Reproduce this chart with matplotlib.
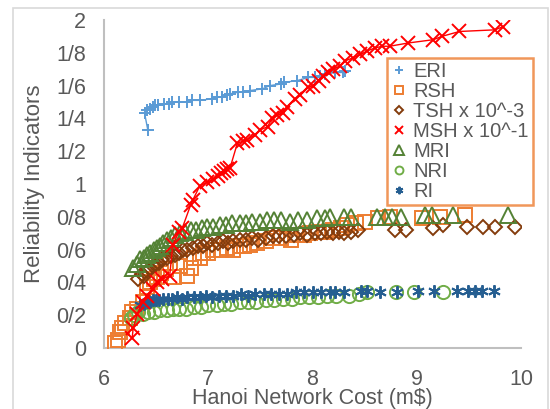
import matplotlib
matplotlib.use("Agg")
import matplotlib.pyplot as plt
from matplotlib.patches import Rectangle

plt.rcParams['font.family'] = ['Liberation Sans', 'DejaVu Sans']

# ---------------- data ----------------
eri_x = [6.42, 6.39, 6.41, 6.44, 6.47, 6.49, 6.52, 6.58, 6.62, 6.65, 6.72, 6.80, 6.84, 6.92, 7.04, 7.08, 7.13,
         7.18, 7.21, 7.29, 7.33, 7.40, 7.52, 7.59, 7.70, 7.73, 7.85, 7.96, 8.02, 8.07, 8.12, 8.22, 8.29, 8.31]
eri_y = [1.33, 1.43, 1.45, 1.46, 1.47, 1.48, 1.48, 1.49, 1.49, 1.50, 1.50, 1.50, 1.51, 1.51, 1.52, 1.53, 1.53,
         1.54, 1.55, 1.56, 1.56, 1.57, 1.58, 1.60, 1.61, 1.62, 1.63, 1.65, 1.65, 1.66, 1.67, 1.68, 1.68, 1.69]

rsh_x = [6.11, 6.13, 6.15, 6.17, 6.20, 6.25, 6.27, 6.32, 6.37, 6.41, 6.41, 6.44, 6.48, 6.51, 6.55, 6.59, 6.63,
         6.67, 6.73, 6.80, 6.83, 6.86, 6.92, 6.95, 7.00, 7.05, 7.12, 7.18, 7.24, 7.30, 7.34, 7.40, 7.47, 7.55,
         7.62, 7.70, 7.79, 7.85, 7.92, 7.98, 8.05, 8.12, 8.20, 8.27, 8.33, 8.42, 8.50, 8.63, 8.74, 9.05, 9.22, 9.46]
rsh_y = [0.03, 0.05, 0.10, 0.12, 0.15, 0.18, 0.22, 0.24, 0.28, 0.31, 0.37, 0.40, 0.42, 0.43, 0.46, 0.48, 0.52,
         0.43, 0.50, 0.44, 0.49, 0.55, 0.55, 0.58, 0.58, 0.60, 0.60, 0.61, 0.60, 0.62, 0.62, 0.63, 0.64, 0.65,
         0.67, 0.67, 0.66, 0.69, 0.69, 0.70, 0.71, 0.71, 0.72, 0.73, 0.75, 0.76, 0.77, 0.79, 0.80, 0.79, 0.80, 0.81]

tsh_x = [6.33, 6.36, 6.38, 6.41, 6.44, 6.47, 6.50, 6.53, 6.56, 6.60, 6.64, 6.68, 6.72, 6.76, 6.80, 6.85, 6.90,
         6.95, 6.99, 7.04, 7.09, 7.14, 7.19, 7.24, 7.30, 7.36, 7.42, 7.48, 7.55, 7.62, 7.68, 7.75, 7.82, 7.88,
         7.95, 8.02, 8.08, 8.14, 8.20, 8.25, 8.30, 8.37, 8.44, 8.79, 8.90, 9.16, 9.25, 9.48, 9.64, 9.75, 9.94]
tsh_y = [0.42, 0.45, 0.44, 0.47, 0.48, 0.50, 0.51, 0.52, 0.54, 0.55, 0.56, 0.57, 0.58, 0.60, 0.60, 0.61, 0.62,
         0.62, 0.64, 0.63, 0.64, 0.65, 0.64, 0.65, 0.66, 0.66, 0.67, 0.66, 0.67, 0.68, 0.68, 0.68, 0.69, 0.70,
         0.69, 0.70, 0.70, 0.71, 0.70, 0.71, 0.70, 0.71, 0.72, 0.72, 0.72, 0.73, 0.75, 0.74, 0.74, 0.74, 0.74]

msh_x = [6.27, 6.28, 6.32, 6.37, 6.41, 6.47, 6.51, 6.56, 6.63, 6.66, 6.72, 6.75, 6.83, 6.85, 6.92, 6.99, 7.05,
         7.09, 7.12, 7.15, 7.18, 7.21, 7.28, 7.33, 7.37, 7.45, 7.50, 7.57, 7.61, 7.66, 7.72, 7.76, 7.83, 7.88,
         7.96, 8.00, 8.06, 8.10, 8.15, 8.20, 8.26, 8.31, 8.39, 8.46, 8.52, 8.60, 8.67, 8.74, 8.92, 9.16, 9.24,
         9.41, 9.75, 9.83]
msh_y = [0.06, 0.12, 0.21, 0.28, 0.32, 0.36, 0.40, 0.42, 0.44, 0.63, 0.71, 0.73, 0.87, 0.90, 0.99, 1.01, 1.03,
         1.05, 1.07, 1.08, 1.09, 1.10, 1.25, 1.26, 1.27, 1.30, 1.33, 1.35, 1.40, 1.42, 1.43, 1.47, 1.52, 1.54,
         1.59, 1.60, 1.63, 1.66, 1.68, 1.70, 1.72, 1.75, 1.77, 1.79, 1.81, 1.83, 1.84, 1.84, 1.86, 1.88, 1.90,
         1.93, 1.94, 1.96]

mri_x = [6.28, 6.32, 6.35, 6.38, 6.41, 6.44, 6.48, 6.51, 6.54, 6.57, 6.60, 6.64, 6.68, 6.73, 6.78, 6.83, 6.88,
         6.94, 6.99, 7.05, 7.11, 7.17, 7.23, 7.30, 7.36, 7.42, 7.50, 7.56, 7.63, 7.70, 7.78, 7.86, 7.95, 8.04,
         8.12, 8.17, 8.30, 8.37, 8.62, 8.70, 8.76, 8.85, 9.08, 9.15, 9.35, 9.88]
mri_y = [0.49, 0.51, 0.54, 0.55, 0.57, 0.58, 0.60, 0.61, 0.62, 0.64, 0.66, 0.67, 0.69, 0.70, 0.71, 0.72, 0.72,
         0.73, 0.74, 0.74, 0.75, 0.75, 0.76, 0.76, 0.76, 0.77, 0.77, 0.78, 0.78, 0.78, 0.77, 0.78, 0.78, 0.79,
         0.79, 0.80, 0.80, 0.80, 0.80, 0.80, 0.80, 0.80, 0.81, 0.81, 0.81, 0.81]

nri_x = [6.26, 6.29, 6.33, 6.37, 6.42, 6.48, 6.54, 6.60, 6.66, 6.72, 6.79, 6.86, 6.93, 7.00, 7.08, 7.15, 7.22,
         7.30, 7.38, 7.46, 7.55, 7.63, 7.72, 7.80, 7.88, 7.97, 8.05, 8.14, 8.23, 8.35, 8.45, 8.52, 8.80, 8.97, 9.25]
nri_y = [0.18, 0.20, 0.22, 0.21, 0.22, 0.22, 0.23, 0.23, 0.24, 0.24, 0.24, 0.25, 0.25, 0.26, 0.26, 0.27, 0.27,
         0.28, 0.28, 0.28, 0.29, 0.29, 0.30, 0.30, 0.31, 0.31, 0.31, 0.32, 0.32, 0.32, 0.33, 0.34, 0.34, 0.34, 0.34]

ri_x = [6.35, 6.38, 6.41, 6.44, 6.47, 6.50, 6.53, 6.57, 6.61, 6.65, 6.70, 6.75, 6.80, 6.86, 6.92, 6.98, 7.04,
        7.10, 7.17, 7.24, 7.31, 7.38, 7.45, 7.53, 7.60, 7.68, 7.76, 7.84, 7.92, 8.00, 8.08, 8.17, 8.22, 8.30,
        8.47, 8.52, 8.65, 8.81, 9.01, 9.17, 9.39, 9.49, 9.56, 9.63, 9.74]
ri_y = [0.26, 0.27, 0.28, 0.28, 0.29, 0.29, 0.29, 0.30, 0.30, 0.30, 0.31, 0.30, 0.31, 0.31, 0.31, 0.32, 0.31,
        0.32, 0.32, 0.32, 0.33, 0.32, 0.33, 0.33, 0.33, 0.33, 0.33, 0.34, 0.34, 0.34, 0.34, 0.34, 0.34, 0.34,
        0.35, 0.35, 0.34, 0.34, 0.35, 0.35, 0.35, 0.35, 0.35, 0.35, 0.35]

labels = ["ERI", "RSH", "TSH x 10^-3", "MSH x 10^-1", "MRI", "NRI", "RI"]
x_ticks = [6, 7, 8, 9, 10]
y_ticks = [0, 0.2, 0.4, 0.6, 0.8, 1.0, 1.2, 1.4, 1.6, 1.8, 2.0]
y_ticklabels = ["0", "0/2", "0/4", "0/6", "0/8", "1", "1/2", "1/4", "1/6", "1/8", "2"]

# ---------------- figure ----------------
fig = plt.figure(figsize=(5.5, 4.09), dpi=100)
fig.patches.append(Rectangle((13 / 550, -0.05), (548 - 13) / 550, 1.05 - 8 / 409,
                             transform=fig.transFigure, fill=False, edgecolor='#D9D9D9', linewidth=1.2))
ax = fig.add_axes([104 / 550, 1 - 348 / 409, (521 - 104) / 550, (348 - 20) / 409])

mew = 1.4
ax.plot(eri_x, eri_y, color='#5B9BD5', marker='+', ms=9, mew=mew, lw=1.0, label=labels[0], zorder=3)
ax.plot(rsh_x, rsh_y, color='#ED7D31', marker='s', ms=10, mew=mew, lw=0, fillstyle='none', label=labels[1], zorder=3)
ax.plot(tsh_x, tsh_y, color='#843C0C', marker='D', ms=7.5, mew=mew, lw=0, fillstyle='none', label=labels[2], zorder=4)
ax.plot(msh_x, msh_y, color='#FF0000', marker='x', ms=9.5, mew=mew, lw=1.0, label=labels[3], zorder=7)
ax.plot(mri_x, mri_y, color='#548235', marker='^', ms=11, mew=mew, lw=0, fillstyle='none', label=labels[4], zorder=5)
ax.plot(nri_x, nri_y, color='#70AD47', marker='o', ms=9.5, mew=mew, lw=0, fillstyle='none', label=labels[5], zorder=5)
ax.plot(ri_x, ri_y, color='#255E91', marker=(6, 2, 0), ms=9, mew=mew, lw=0, label=labels[6], zorder=6)

ax.set_xlim(6, 10)
ax.set_ylim(0, 2)
ax.set_xticks(x_ticks)
ax.set_xticklabels([str(t) for t in x_ticks])
ax.set_yticks(y_ticks)
ax.set_yticklabels(y_ticklabels)
ax.tick_params(axis='both', length=0, labelsize=15.5, colors='#595959')
ax.tick_params(axis='y', pad=13)
ax.tick_params(axis='x', pad=15)
for s in ['top', 'right']:
    ax.spines[s].set_visible(False)
for s in ['left', 'bottom']:
    ax.spines[s].set_color('#BFBFBF')
    ax.spines[s].set_linewidth(1.5)

ax.set_xlabel("Hanoi Network Cost (m$)", fontsize=15.5, color='#595959', labelpad=-1)
ax.set_ylabel("Reliability Indicators", fontsize=16, color='#595959', labelpad=8)

leg = ax.legend(loc='upper left', bbox_to_anchor=((387 - 104) / 417, (348 - 58) / 328),
                borderaxespad=0, fontsize=14.5, labelspacing=0.05, handlelength=0.8, handletextpad=0.3,
                borderpad=0.2, markerscale=0.6, frameon=True, fancybox=False, labelcolor='#595959')
leg.get_frame().set_edgecolor('#ED7D31')
leg.get_frame().set_linewidth(1.8)
for h in leg.legend_handles:
    h.set_linestyle('None')

fig.savefig("out.png", dpi=100)
